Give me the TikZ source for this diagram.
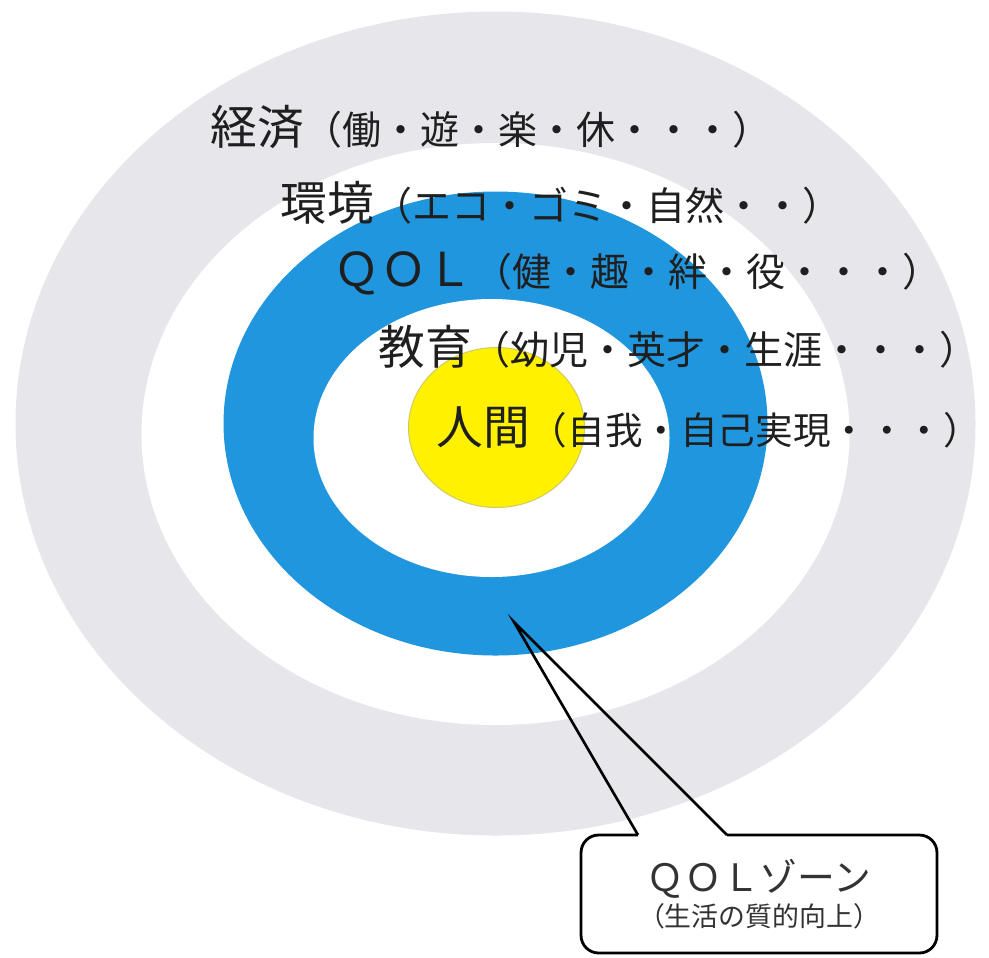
\documentclass[tikz,border=0pt]{standalone}
\usepackage{fontspec}
\setmainfont{Noto Sans CJK JP}
\definecolor{ringgray}{RGB}{231,231,235}
\definecolor{ringblue}{RGB}{32,150,222}
\definecolor{coreyellow}{RGB}{255,241,0}
\newcommand\ringword[3][22.2]{{\fontsize{26.6}{30}\selectfont #2}{\fontsize{#1}{26}\selectfont #3}}

\begin{document}
\begin{tikzpicture}[x=0.02cm,y=-0.02cm,
  word/.style={anchor=west,inner sep=0pt,text=black!88},
  zonebox/.style={draw,line width=1.6pt,rounded corners=10pt,fill=white,
    minimum width=7.12cm,minimum height=2.36cm,align=center,text=black!80}]
\useasboundingbox (0,0) rectangle (989,957);

\fill[ringgray] (495.5,423.5) ellipse [x radius=480,y radius=412];
\fill[white] (495.5,434) ellipse [x radius=354,y radius=291];
\fill[ringblue] (495.5,423.5) ellipse [x radius=272,y radius=232];
\fill[white] (491.5,438) ellipse [x radius=178,y radius=139];
\filldraw[fill=coreyellow,draw=coreyellow!70!black!60,line width=0.6pt] (496.5,427.5) ellipse [x radius=88,y radius=80];

\node[word] (keizai) at (210,127) {\ringword{経済}{（働・遊・楽・休・・・）}};
\node[word] (kankyo) at (280,203) {\ringword{環境}{（エコ・ゴミ・自然・・）}};
\node[word] (qol) at (333,273) {\ringword{ＱＯＬ}{（健・趣・絆・役・・・）}};
\node[word] (kyoiku) at (378,347) {\ringword{教育}{（幼児・英才・生涯・・・）}};
\node[word] (ningen) at (436,427) {\ringword[21.4]{人間}{（自我・自己実現・・・）}};

\node[zonebox] (zone) at (759,894) {{\fontsize{21.5}{21.5}\selectfont ＱＯＬゾーン}\\[2pt]{\fontsize{15.3}{21.5}\selectfont （生活の質的向上）}};
\coordinate (tip) at (514,622);
\coordinate (tailL) at (638,835);
\coordinate (tailR) at (727,835);
\draw[white,line width=2.4pt] (tailL) -- (tailR);
\draw[line width=1.5pt,line join=miter] (tailL) -- (tip) -- (tailR);
\end{tikzpicture}
\end{document}
